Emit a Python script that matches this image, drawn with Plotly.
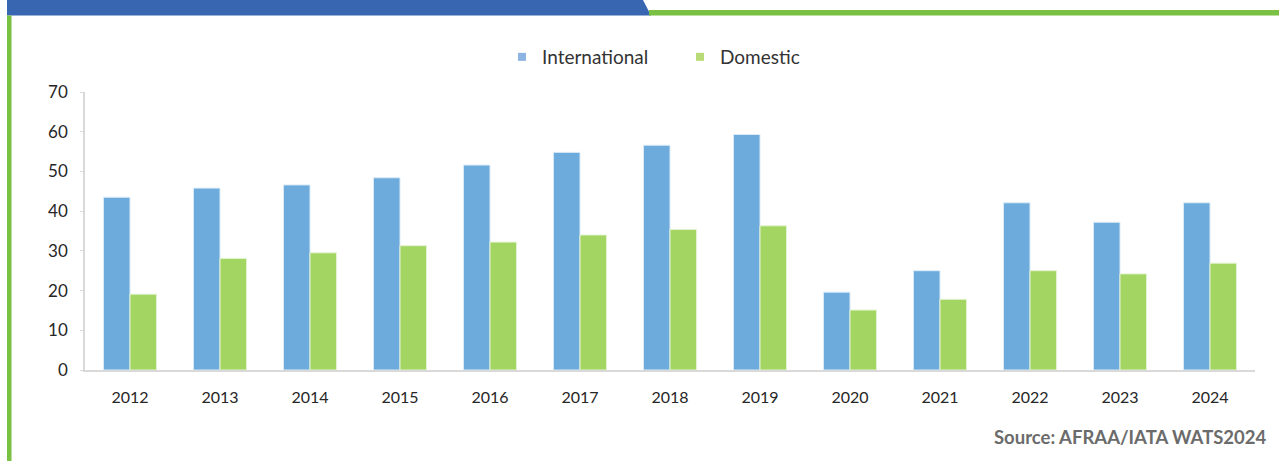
import plotly.graph_objects as go

years = ["2012", "2013", "2014", "2015", "2016", "2017", "2018", "2019",
         "2020", "2021", "2022", "2023", "2024"]
international = [43.5, 45.8, 46.6, 48.4, 51.6, 54.8, 56.6, 59.3, 19.6, 25.0, 42.1, 37.2, 42.1]
domestic = [19.1, 28.1, 29.5, 31.3, 32.2, 34.0, 35.4, 36.3, 15.1, 17.8, 25.0, 24.2, 26.9]
y_ticks = [0, 10, 20, 30, 40, 50, 60, 70]

BLUE = "#6CABDC"
GREEN = "#A2D562"
FONT = "Lato"

W, H = 1279, 461
L, R, T, B = 85, 24, 92, 91
PW, PH = W - L - R, H - T - B


def px(x):
    return (x - L) / PW


def py(y):
    return (H - B - y) / PH


fig = go.Figure()
fig.add_trace(go.Bar(x=years, y=international, name="International",
                     marker=dict(color=BLUE, line=dict(color="#DCEBF7", width=1)),
                     showlegend=False))
fig.add_trace(go.Bar(x=years, y=domestic, name="Domestic",
                     marker=dict(color=GREEN, line=dict(color="#E4F3D2", width=1)),
                     showlegend=False))
# legend entries with small square swatches
fig.add_trace(go.Scatter(x=[None], y=[None], mode="markers", name="International",
                         marker=dict(symbol="square", size=8, color="#8DB3E2")))
fig.add_trace(go.Scatter(x=[None], y=[None], mode="markers", name="Domestic",
                         marker=dict(symbol="square", size=8, color="#B9DB77")))

shapes = [
    # blue header band
    dict(type="path", xref="paper", yref="paper",
         path=f"M {px(7)} {py(0)} L {px(643)} {py(0)} L {px(651)} {py(15.5)} L {px(7)} {py(15.5)} Z",
         fillcolor="#3966B1", line=dict(width=0), layer="above"),
    # green header line
    dict(type="rect", xref="paper", yref="paper",
         x0=px(649), x1=px(1279), y0=py(10), y1=py(15.5),
         fillcolor="#7AC043", line=dict(width=0)),
    # green vertical line
    dict(type="rect", xref="paper", yref="paper",
         x0=px(7), x1=px(11.5), y0=py(15.5), y1=py(461),
         fillcolor="#7AC043", line=dict(width=0)),
]

fig.update_layout(
    width=W, height=H,
    margin=dict(l=L, r=R, t=T, b=B),
    paper_bgcolor="white", plot_bgcolor="white",
    barmode="group", bargap=0.41, bargroupgap=0,
    font=dict(family=FONT, color="#262626", size=15),
    legend=dict(orientation="h", x=px(680), xanchor="center", y=py(57), yanchor="middle",
                font=dict(size=19, color="#333333", family=FONT), entrywidth=133,
                itemsizing="trace"),
    shapes=shapes,
    annotations=[dict(text="<b>Source: AFRAA/IATA WATS2024</b>", xref="paper", yref="paper",
                      x=px(1269), y=py(437), xanchor="right", yanchor="middle",
                      showarrow=False, font=dict(size=18.5, color="#6B6B6B", family=FONT))],
    xaxis=dict(type="category", showline=True, linecolor="#D9D9D9", linewidth=1.5,
               ticks="", showgrid=False, tickfont=dict(size=16, color="#262626"),
               ticklabelstandoff=12),
    yaxis=dict(range=[0, 70], tickvals=y_ticks, showline=True, linecolor="#D9D9D9",
               linewidth=1.5, ticks="outside", ticklen=3, tickcolor="#D9D9D9",
               showgrid=False, zeroline=False, tickfont=dict(size=17, color="#262626"),
               ticklabelstandoff=9),
)

fig.write_html("out.html", config={"displayModeBar": False},
               post_script="document.body.style.margin='0px';")
